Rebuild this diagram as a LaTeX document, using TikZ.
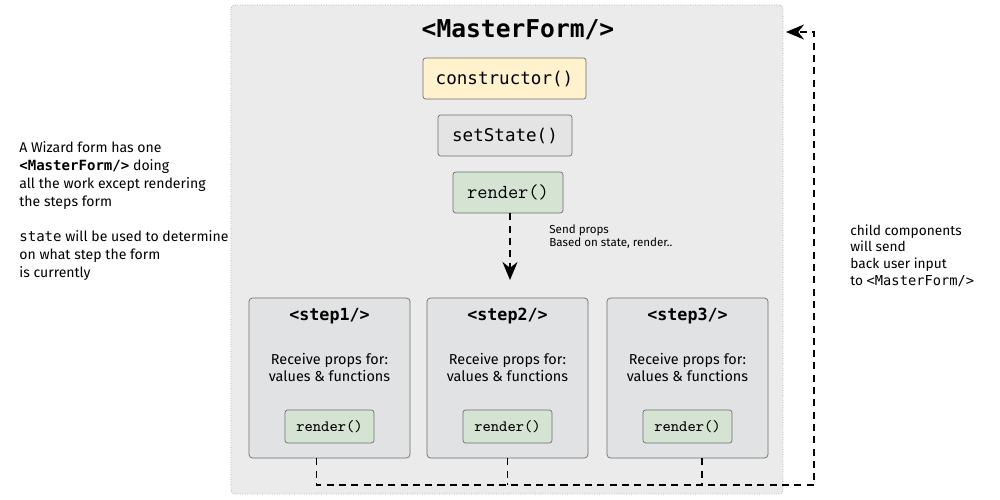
\documentclass[tikz,border=0pt]{standalone}
\usepackage{fontspec}
\setmainfont{Fira Sans}
\newfontfamily\codefont{DejaVu Sans Mono}
\usetikzlibrary{arrows.meta, positioning, calc}
\definecolor{masterbg}{RGB}{235,235,235}
\definecolor{stepbg}{RGB}{225,226,227}
\definecolor{ctorfill}{RGB}{255,242,204}
\definecolor{statefill}{RGB}{228,228,228}
\definecolor{renderfill}{RGB}{213,227,211}
\definecolor{boxline}{RGB}{110,110,110}

\tikzset{
  method/.style={draw=boxline, rounded corners=1.5pt, font=\codefont\fontsize{10}{12}\selectfont, inner sep=0pt},
  stepbox/.style={draw=boxline, fill=stepbg, rounded corners=2pt, minimum width=32.2mm, minimum height=32mm},
  steptitle/.style={font=\codefont\bfseries\fontsize{9.5}{11}\selectfont},
  note/.style={align=left, inner sep=0pt},
  flow/.style={line width=1.1pt, dash pattern=on 4pt off 3pt},
}

\begin{document}
\begin{tikzpicture}[x=0.2mm, y=-0.2mm]
  \useasboundingbox (0,0) rectangle (1000,500);

  % the master component
  \node[draw=gray!70, densely dotted, fill=masterbg, rounded corners=2pt,
        minimum width=110.4mm, minimum height=97.8mm] (master) at (507,249.5) {};
  \node[font=\codefont\bfseries\fontsize{14}{16}\selectfont] (mastertitle) at (518,30) {<MasterForm/>};

  \node[method, fill=ctorfill, minimum width=32.6mm, minimum height=8.2mm] (ctor) at (504.5,78.5) {constructor()};
  \node[method, fill=statefill, minimum width=26.8mm, minimum height=8.2mm] (setstate) at (505,135.5) {setState()};
  \node[method, fill=renderfill, minimum width=22mm, minimum height=8.2mm,
        font=\ttfamily\fontsize{11.3}{13}\selectfont] (render) at (508,192.5) {render()};

  \coordinate (propsend) at (510,280);
  \draw[flow, -{Stealth[length=3.6mm, width=3mm]}] (render.south -| propsend) -- (propsend);
  \node[note, anchor=north west, font=\fontsize{6.6}{7.9}\selectfont] (propsnote) at (549,224)
    {Send props\\Based on state, render..};

  % the three steps
  \foreach \i/\x in {1/329.5, 2/507.5, 3/687.5} {
    \node[stepbox] (step\i) at (\x,378) {};
    \node[steptitle] (step\i title) at ($(step\i.north)+(0,18)$) {<step\i/>};
    \node[align=center, font=\fontsize{8.2}{9.8}\selectfont] (step\i text) at ($(step\i.north)+(0,70)$)
      {Receive props for:\\values \& functions};
    \node[method, fill=renderfill, minimum width=17.8mm, minimum height=6.6mm,
          font=\ttfamily\fontsize{9}{10}\selectfont] (step\i render) at (\x,426.5) {render()};
  }

  % user input goes back up
  \coordinate (backin) at (786,32);
  \coordinate (backcorner) at (814,485);
  \draw[flow, -{Stealth[length=3.6mm, width=3mm]}] ($(step1.south)+(-13,0)$) |- (backcorner) |- (backin);
  \draw[flow] (step2.south) -- (step2.south |- backcorner);
  \draw[flow] ($(step3.south)+(14.5,0)$) -- ($(step3.south |- backcorner)+(14.5,0)$);

  % side notes
  \node[note, anchor=north west, font=\fontsize{8}{10.2}\selectfont] (leftnote) at (19,141)
    {A Wizard form has one\\
     {\codefont\bfseries <MasterForm/>} doing\\
     all the work except rendering\\
     the steps form\\[10.2pt]
     {\codefont state} will be used to determine\\
     on what step the form\\
     is currently};
  \node[note, anchor=north west, font=\fontsize{7.8}{9.5}\selectfont] (rightnote) at (850,224)
    {child components\\will send\\back user input\\to {\codefont <MasterForm/>}};
\end{tikzpicture}
\end{document}
